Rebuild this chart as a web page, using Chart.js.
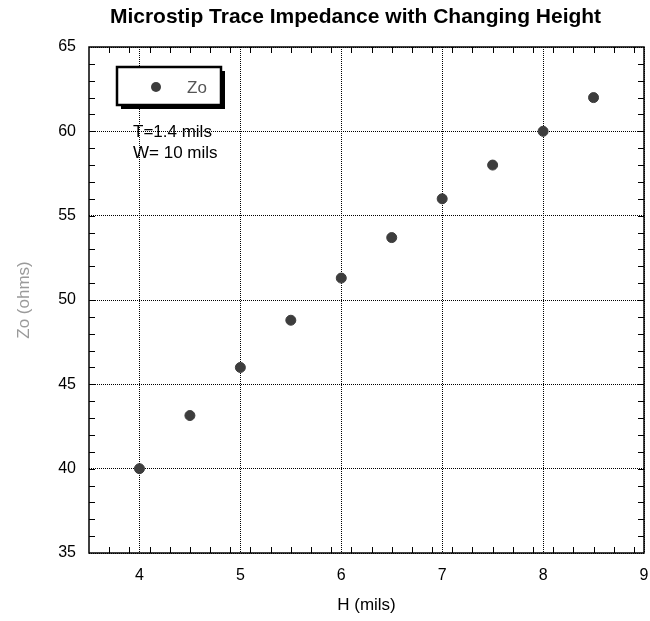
<!DOCTYPE html>
<html>
<head>
<meta charset="utf-8">
<script src="https://cdn.jsdelivr.net/npm/chart.js@4.4.1/dist/chart.umd.min.js"></script>
<style>
  html, body { margin: 0; padding: 0; background: #fff; }
  #wrap { width: 650px; height: 621px; }
</style>
</head>
<body>
<div id="wrap"><canvas id="impChart" width="650" height="621"></canvas></div>
<script>
const heights = [4, 4.5, 5, 5.5, 6, 6.5, 7, 7.5, 8, 8.5];
const zoValues = [40.0, 43.15, 46.0, 48.8, 51.3, 53.7, 56.0, 58.0, 60.0, 62.0];
const xTicks = [4, 5, 6, 7, 8, 9];
const seriesName = 'Zo';
const notes = ['T=1.4 mils', 'W= 10 mils'];

const font = "'Liberation Sans', Arial, sans-serif";
const dotColor = '#3d3d3d';

// box around the plot, inward minor ticks, legend and the T/W note
const decor = {
  id: 'decor',
  afterLayout(chart) {
    // centre the title a bit right of the canvas middle, as in the original
    if (chart.titleBlock) {
      chart.titleBlock.left = 66;
      chart.titleBlock.right = 645;
    }
  },
  afterDraw(chart) {
    const { ctx, chartArea: a, scales: { x, y } } = chart;
    ctx.save();
    ctx.strokeStyle = '#000';
    ctx.lineWidth = 1;
    ctx.beginPath();
    for (let k = 1; x.min + k * 0.2 < x.max - 1e-6; k++) {
      const px = Math.round(x.getPixelForValue(x.min + k * 0.2)) + 0.5;
      ctx.moveTo(px, a.bottom); ctx.lineTo(px, a.bottom - 6);
      ctx.moveTo(px, a.top); ctx.lineTo(px, a.top + 6);
    }
    for (let v = y.min + 1; v < y.max; v++) {
      const py = Math.round(y.getPixelForValue(v)) + 0.5;
      ctx.moveTo(a.left, py); ctx.lineTo(a.left + 6, py);
      ctx.moveTo(a.right, py); ctx.lineTo(a.right - 6, py);
    }
    ctx.stroke();
    ctx.lineWidth = 1.5;
    ctx.strokeRect(a.left, a.top, a.right - a.left, a.bottom - a.top);

    // legend box
    const bx = a.left + 28, by = a.top + 20, bw = 104, bh = 38;
    ctx.fillStyle = '#000';
    ctx.fillRect(bx + 4, by + 4, bw, bh);
    ctx.fillStyle = '#fff';
    ctx.fillRect(bx, by, bw, bh);
    ctx.lineWidth = 2.5;
    ctx.strokeRect(bx, by, bw, bh);
    ctx.fillStyle = dotColor;
    ctx.beginPath();
    ctx.arc(bx + 39, by + 20, 5, 0, Math.PI * 2);
    ctx.fill();
    ctx.fillStyle = '#555';
    ctx.font = '17px ' + font;
    ctx.textBaseline = 'middle';
    ctx.textAlign = 'left';
    ctx.fillText(chart.data.datasets[0].label, bx + 70, by + 21);

    ctx.fillStyle = '#000';
    notes.forEach((t, i) => ctx.fillText(t, a.left + 44, a.top + 85 + i * 21));
    ctx.restore();
  }
};

new Chart(document.getElementById('impChart'), {
  type: 'scatter',
  data: {
    datasets: [{
      label: seriesName,
      data: heights.map((h, i) => ({ x: h, y: zoValues[i] })),
      backgroundColor: dotColor,
      borderColor: dotColor,
      pointRadius: 5,
      pointHoverRadius: 5
    }]
  },
  options: {
    responsive: false,
    animation: false,
    layout: { padding: { left: 0, right: 5, top: 0, bottom: 0 } },
    plugins: {
      legend: { display: false },
      tooltip: { enabled: false },
      title: {
        display: true,
        text: 'Microstip Trace Impedance with Changing Height',
        color: '#000',
        font: { family: font, size: 21, weight: 'bold' },
        padding: { top: 4.5, bottom: 17.3 }
      }
    },
    scales: {
      x: {
        type: 'linear',
        min: 3.5,
        max: 9,
        afterBuildTicks: s => { s.ticks = xTicks.map(v => ({ value: v })); },
        afterFit: s => { s.height = 68; s.paddingLeft = 0; s.paddingRight = 0; },
        grid: { color: '#000', lineWidth: 1, drawTicks: false },
        border: { display: false, dash: [1, 1] },
        ticks: { color: '#000', padding: 13, font: { family: font, size: 16 }, maxRotation: 0 },
        title: {
          display: true, text: 'H (mils)', color: '#000',
          font: { family: font, size: 17 }, padding: { top: 0, bottom: 5 }
        }
      },
      y: {
        type: 'linear',
        min: 35,
        max: 65,
        ticks: { stepSize: 5, color: '#000', padding: 13, font: { family: font, size: 16 } },
        afterFit: s => { s.width = 89; },
        grid: { color: '#000', lineWidth: 1, drawTicks: false },
        border: { display: false, dash: [1, 1] },
        title: {
          display: true, text: 'Zo (ohms)', color: '#9a9a9a',
          font: { family: font, size: 17 }, padding: { top: 14, bottom: 0 }
        }
      }
    }
  },
  plugins: [decor]
});
</script>
</body>
</html>
